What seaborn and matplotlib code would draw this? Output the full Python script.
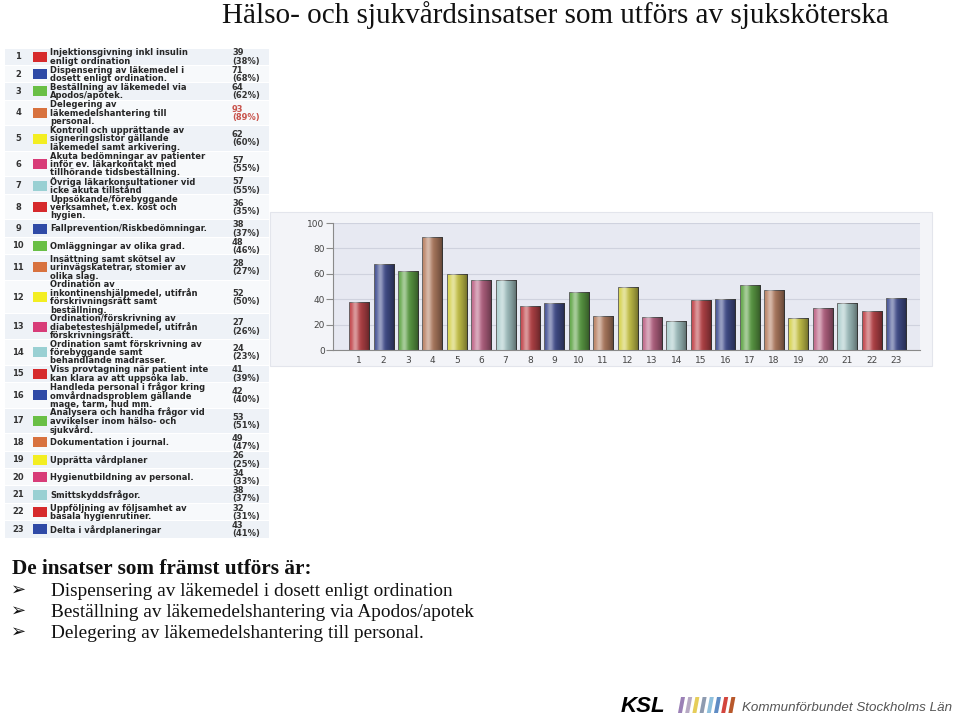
import numpy as np
import pandas as pd
import matplotlib
matplotlib.use("Agg")
import matplotlib.pyplot as plt
import seaborn as sns
from matplotlib.patches import Rectangle, Polygon

# data
item_nr = list(range(1, 24))
item_text = [
    "Injektionsgivning inkl insulin\nenligt ordination",
    "Dispensering av läkemedel i\ndosett enligt ordination.",
    "Beställning av läkemedel via\nApodos/apotek.",
    "Delegering av\nläkemedelshantering till\npersonal.",
    "Kontroll och upprättande av\nsigneringslistor gällande\nläkemedel samt arkivering.",
    "Akuta bedömningar av patienter\ninför ev. läkarkontakt med\ntillhörande tidsbeställning.",
    "Övriga läkarkonsultationer vid\nicke akuta tillstånd",
    "Uppsökande/förebyggande\nverksamhet, t.ex. kost och\nhygien.",
    "Fallprevention/Riskbedömningar.",
    "Omläggningar av olika grad.",
    "Insättning samt skötsel av\nurinvägskatetrar, stomier av\nolika slag.",
    "Ordination av\ninkontinenshjälpmedel, utifrån\nförskrivningsrätt samt\nbeställning.",
    "Ordination/förskrivning av\ndiabetesteshjälpmedel, utifrån\nförskrivningsrätt.",
    "Ordination samt förskrivning av\nförebyggande samt\nbehandlande madrasser.",
    "Viss provtagning när patient inte\nkan klara av att uppsöka lab.",
    "Handleda personal i frågor kring\nomvårdnadsproblem gällande\nmage, tarm, hud mm.",
    "Analysera och handha frågor vid\navvikelser inom hälso- och\nsjukvård.",
    "Dokumentation i journal.",
    "Upprätta vårdplaner",
    "Hygienutbildning av personal.",
    "Smittskyddsfrågor.",
    "Uppföljning av följsamhet av\nbasala hygienrutiner.",
    "Delta i vårdplaneringar",
]
answers = [39, 71, 64, 93, 62, 57, 57, 36, 38, 48, 28, 52, 27, 24, 41, 42, 53, 49, 26, 34, 38, 32, 43]
percent = [38, 68, 62, 89, 60, 55, 55, 35, 37, 46, 27, 50, 26, 23, 39, 40, 51, 47, 25, 33, 37, 31, 41]

title = "Hälso- och sjukvårdsinsatser som utförs av sjuksköterska"
summary_head = "De insatser som främst utförs är:"
summary_items = [
    "Dispensering av läkemedel i dosett enligt ordination",
    "Beställning av läkemedelshantering via Apodos/apotek",
    "Delegering av läkemedelshantering till personal.",
]

swatch_cols = ["#d62a2c", "#2f4aa6", "#69bf45", "#d8723e", "#f3ee22", "#d83c78", "#99d0d3"]
bar_cols = ["#d8333a", "#3a4ba3", "#5cb83a", "#c98059", "#ede83a", "#cf5a88", "#a9d6d6"]

df = pd.DataFrame({"nr": [str(n) for n in item_nr], "pct": percent})
colors = [bar_cols[i % 7] for i in range(len(item_nr))]

fig = plt.figure(figsize=(9.6, 7.22), dpi=100)
W, H = 960, 722

# overlay axes in pixel coords for decorations / text
ov = fig.add_axes([0, 0, 1, 1], zorder=0)
ov.set_xlim(0, W)
ov.set_ylim(H, 0)
ov.axis("off")

serif = ["Liberation Serif", "DejaVu Serif"]

ov.text(555, 23, title, ha="center", va="baseline", fontsize=21, family=serif, color="#111")

# chart panel background
ov.add_patch(Rectangle((270, 212), 662, 154, facecolor="#f3f4f8", edgecolor="#e3e5ec", lw=0.8))

# ---- table on the left ----
tab = fig.add_axes([5 / W, (H - 538) / H, 264 / W, 490 / H], zorder=1)
nlines = [max(t.count("\n") + 1, 2) for t in item_text]
heights = np.array([n * 8.25 + 1.0 for n in nlines])
heights = heights * 490 / heights.sum()
tab.set_xlim(0, 264)
tab.set_ylim(490, 0)
tab.axis("off")
fs = 6.0
ls = 0.9
y0 = 0
for i, t in enumerate(item_text):
    h = heights[i]
    yc = y0 + h / 2
    bg = "#eef2f7" if i % 2 == 0 else "#f7f9fb"
    tab.add_patch(Rectangle((0, y0 + 0.5), 264, h - 1, facecolor=bg, edgecolor="none"))
    tab.text(13, yc, str(item_nr[i]), ha="center", va="center", fontsize=fs,
             fontweight="bold", color="#333")
    tab.add_patch(Rectangle((28, yc - 5), 14, 10, facecolor=swatch_cols[i % 7], edgecolor="none"))
    tab.text(45, yc + 0.3, t, ha="left", va="center", fontsize=fs, fontweight="bold",
             color="#262626", linespacing=ls)
    vcol = "#c8524a" if percent[i] == max(percent) else "#333"
    tab.text(227, yc + 0.3, f"{answers[i]}\n({percent[i]}%)", ha="left", va="center",
             fontsize=fs, fontweight="bold", color=vcol, linespacing=ls)
    y0 += h

# ---- bar chart ----
ax = fig.add_axes([333 / W, (H - 350) / H, (920 - 333) / W, 127 / H], zorder=2)
ax.set_facecolor("#e7e9f2")
ax.set_axisbelow(True)
ax.grid(True, color="#cfd2de", lw=0.8)
sns.barplot(data=df, x="nr", y="pct", hue="nr", palette=colors, legend=False,
            width=0.82, edgecolor="#555", linewidth=0.6, ax=ax)

# cylinder shading on each bar
g = np.linspace(0, 1, 64)
hi = np.zeros((1, 64, 4))
hi[..., :3] = 1.0
hi[0, :, 3] = 0.45 * np.exp(-((g - 0.3) / 0.16) ** 2)
sh = np.zeros((1, 64, 4))
sh[0, :, 3] = 0.5 * g ** 2.2
for p in list(ax.patches):
    ext = (p.get_x(), p.get_x() + p.get_width(), 0, p.get_height())
    for img in (sh, hi):
        im = ax.imshow(img, extent=ext, aspect="auto", zorder=p.get_zorder() + 0.1,
                       interpolation="bilinear")
        im.set_clip_path(p)

ax.set_xlim(-1.07, 22.98)
ax.set_ylim(0, 100)
ax.set_yticks([0, 20, 40, 60, 80, 100])
ax.set_xlabel("")
ax.set_ylabel("")
for s in ["top", "right"]:
    ax.spines[s].set_visible(False)
for s in ["left", "bottom"]:
    ax.spines[s].set_color("#8a8a8a")
    ax.spines[s].set_linewidth(0.8)
ax.tick_params(axis="y", length=5, width=0.8, color="#8a8a8a", labelsize=6.5,
               labelcolor="#444", pad=1)
ax.tick_params(axis="x", length=0, labelsize=6.5, labelcolor="#444", pad=4)

# ---- summary text ----
ov.text(12, 574, summary_head, ha="left", va="baseline", fontsize=15.3,
        fontweight="bold", family=serif, color="#111")
for k, s in enumerate(summary_items):
    yb = 596 + 21 * k
    ov.text(11, yb - 1, "\u27a2", ha="left", va="baseline", fontsize=13,
            family=["DejaVu Sans"], color="#111")
    ov.text(51, yb, s, ha="left", va="baseline", fontsize=13.9, family=serif, color="#111")

# ---- logo ----
ov.text(621, 712, "KSL", ha="left", va="baseline", fontsize=16, fontweight="bold",
        style="italic", family=["Liberation Sans", "DejaVu Sans"], color="#000")
stripe_cols = ["#9b80b6", "#b7a9c4", "#e6cd5a", "#8e9bb0", "#8fc0dd", "#5f8cc4", "#d3453d", "#b8582b"]
for k, c in enumerate(stripe_cols):
    x = 678 + k * 7.2
    ov.add_patch(Polygon([(x, 713), (x + 4, 713), (x + 7, 697), (x + 3, 697)],
                         closed=True, facecolor=c, edgecolor="none"))
ov.text(742, 711, "Kommunförbundet Stockholms Län", ha="left", va="baseline",
        fontsize=9.6, style="italic", family=["Liberation Sans", "DejaVu Sans"], color="#555")

fig.savefig("out.png", dpi=100)
